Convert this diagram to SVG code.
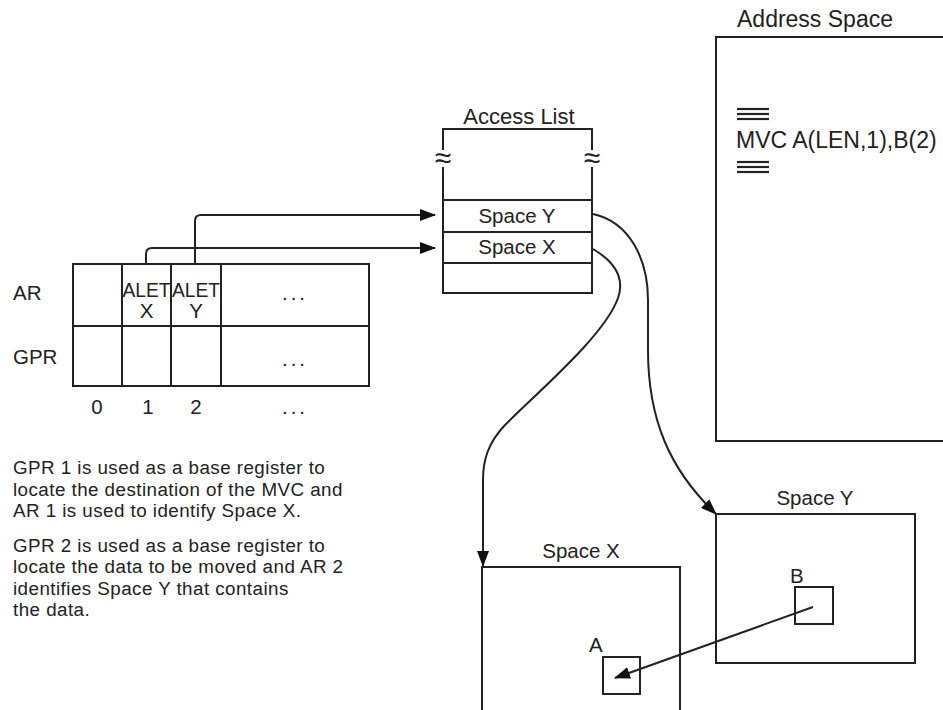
<svg xmlns="http://www.w3.org/2000/svg" width="943" height="710" viewBox="0 0 943 710">
<style>
text{font-family:"Liberation Sans",Arial,sans-serif;font-size:20.5px;fill:#222}
.c{text-anchor:middle}
.big{font-size:22px}
.huge{font-size:23px}
.wv{font-size:30px;text-anchor:middle}
.para{font-size:18.8px;letter-spacing:0.45px}
.ln{fill:none;stroke:#222;stroke-width:2}
.bx{fill:none;stroke:#222;stroke-width:2}
.eq{stroke:#222;stroke-width:2.2}
</style>
<defs>
<marker id="ah" markerWidth="16" markerHeight="12" refX="15" refY="6" orient="auto" markerUnits="userSpaceOnUse">
<path d="M0,0 L16,6 L0,12 Z" fill="#111"/>
</marker>
</defs>
<rect width="943" height="710" fill="#fff"/>

<g id="registers">
<rect class="bx" x="73" y="264" width="296" height="122"/>
<line class="ln" x1="73" y1="326" x2="369" y2="326" stroke-width="3"/>
<line class="ln" x1="122" y1="264" x2="122" y2="386"/>
<line class="ln" x1="171" y1="264" x2="171" y2="386"/>
<line class="ln" x1="221" y1="264" x2="221" y2="386"/>
<text x="13" y="300">AR</text>
<text x="13" y="364">GPR</text>
<text class="c" x="146.5" y="297" textLength="48" lengthAdjust="spacingAndGlyphs">ALET</text>
<text class="c" x="146.5" y="318">X</text>
<text class="c" x="196" y="297" textLength="48" lengthAdjust="spacingAndGlyphs">ALET</text>
<text class="c" x="196" y="318">Y</text>
<text class="c" x="295" y="300" letter-spacing="3">...</text>
<text class="c" x="295" y="366" letter-spacing="3">...</text>
<text class="c" x="97" y="414">0</text>
<text class="c" x="148" y="414">1</text>
<text class="c" x="196" y="414">2</text>
<text class="c" x="295" y="414" letter-spacing="3">...</text>
</g>

<g id="access-list">
<text class="c big" x="519" y="124">Access List</text>
<path class="ln" d="M443,150 L443,129 L592,129 L592,150"/>
<path class="ln" d="M443,167 L443,293 L592,293 L592,167"/>
<text class="wv" x="443" y="168">≈</text>
<text class="wv" x="592" y="168">≈</text>
<line class="ln" x1="443" y1="200" x2="592" y2="200"/>
<line class="ln" x1="443" y1="232" x2="592" y2="232"/>
<line class="ln" x1="443" y1="263" x2="592" y2="263"/>
<text class="c" x="517" y="223">Space Y</text>
<text class="c" x="517" y="254">Space X</text>
</g>

<g id="address-space">
<text class="c huge" x="815" y="27">Address Space</text>
<path class="ln" d="M950,37 L716,37 L716,441 L950,441"/>
<line class="eq" x1="737" y1="109" x2="769" y2="109"/>
<line class="eq" x1="737" y1="114" x2="769" y2="114"/>
<line class="eq" x1="737" y1="119" x2="769" y2="119"/>
<text class="huge" x="736" y="148">MVC A(LEN,1),B(2)</text>
<line class="eq" x1="737" y1="162" x2="769" y2="162"/>
<line class="eq" x1="737" y1="167" x2="769" y2="167"/>
<line class="eq" x1="737" y1="172" x2="769" y2="172"/>
</g>

<g id="space-y">
<text class="c" x="815" y="505">Space Y</text>
<rect class="bx" x="716" y="514" width="199" height="149"/>
<rect class="bx" x="795" y="587" width="38" height="37"/>
<text x="790" y="583">B</text>
</g>

<g id="space-x">
<text class="c" x="581" y="558">Space X</text>
<path class="ln" d="M482,720 L482,567 L680,567 L680,720"/>
<rect class="bx" x="603" y="657" width="37" height="37"/>
<text x="589" y="652">A</text>
</g>

<g id="description">
<text class="para" x="13" y="474">GPR 1 is used as a base register to</text>
<text class="para" x="13" y="495.6">locate the destination of the MVC and</text>
<text class="para" x="13" y="517.2">AR 1 is used to identify Space X.</text>
<text class="para" x="13" y="551.5">GPR 2 is used as a base register to</text>
<text class="para" x="13" y="573.1">locate the data to be moved and AR 2</text>
<text class="para" x="13" y="594.7">identifies Space Y that contains</text>
<text class="para" x="13" y="616.3">the data.</text>
</g>

<g id="connectors">
<path class="ln" d="M146,264 L146,254 Q146,248 152,248 L435,248" marker-end="url(#ah)"/>
<path class="ln" d="M195,264 L195,221 Q195,215 201,215 L435,215" marker-end="url(#ah)"/>
<path class="ln" d="M593,214 C630,222 648,260 648,300 L648,350 C648,420 670,470 716,514" marker-end="url(#ah)"/>
<path class="ln" d="M593,249 C615,262 625,278 618,298 C605,335 540,390 505,425 C488,443 483,460 483,480 L483,566" marker-end="url(#ah)"/>
<path class="ln" d="M813,607 L615,678" marker-end="url(#ah)"/>
</g>
</svg>
